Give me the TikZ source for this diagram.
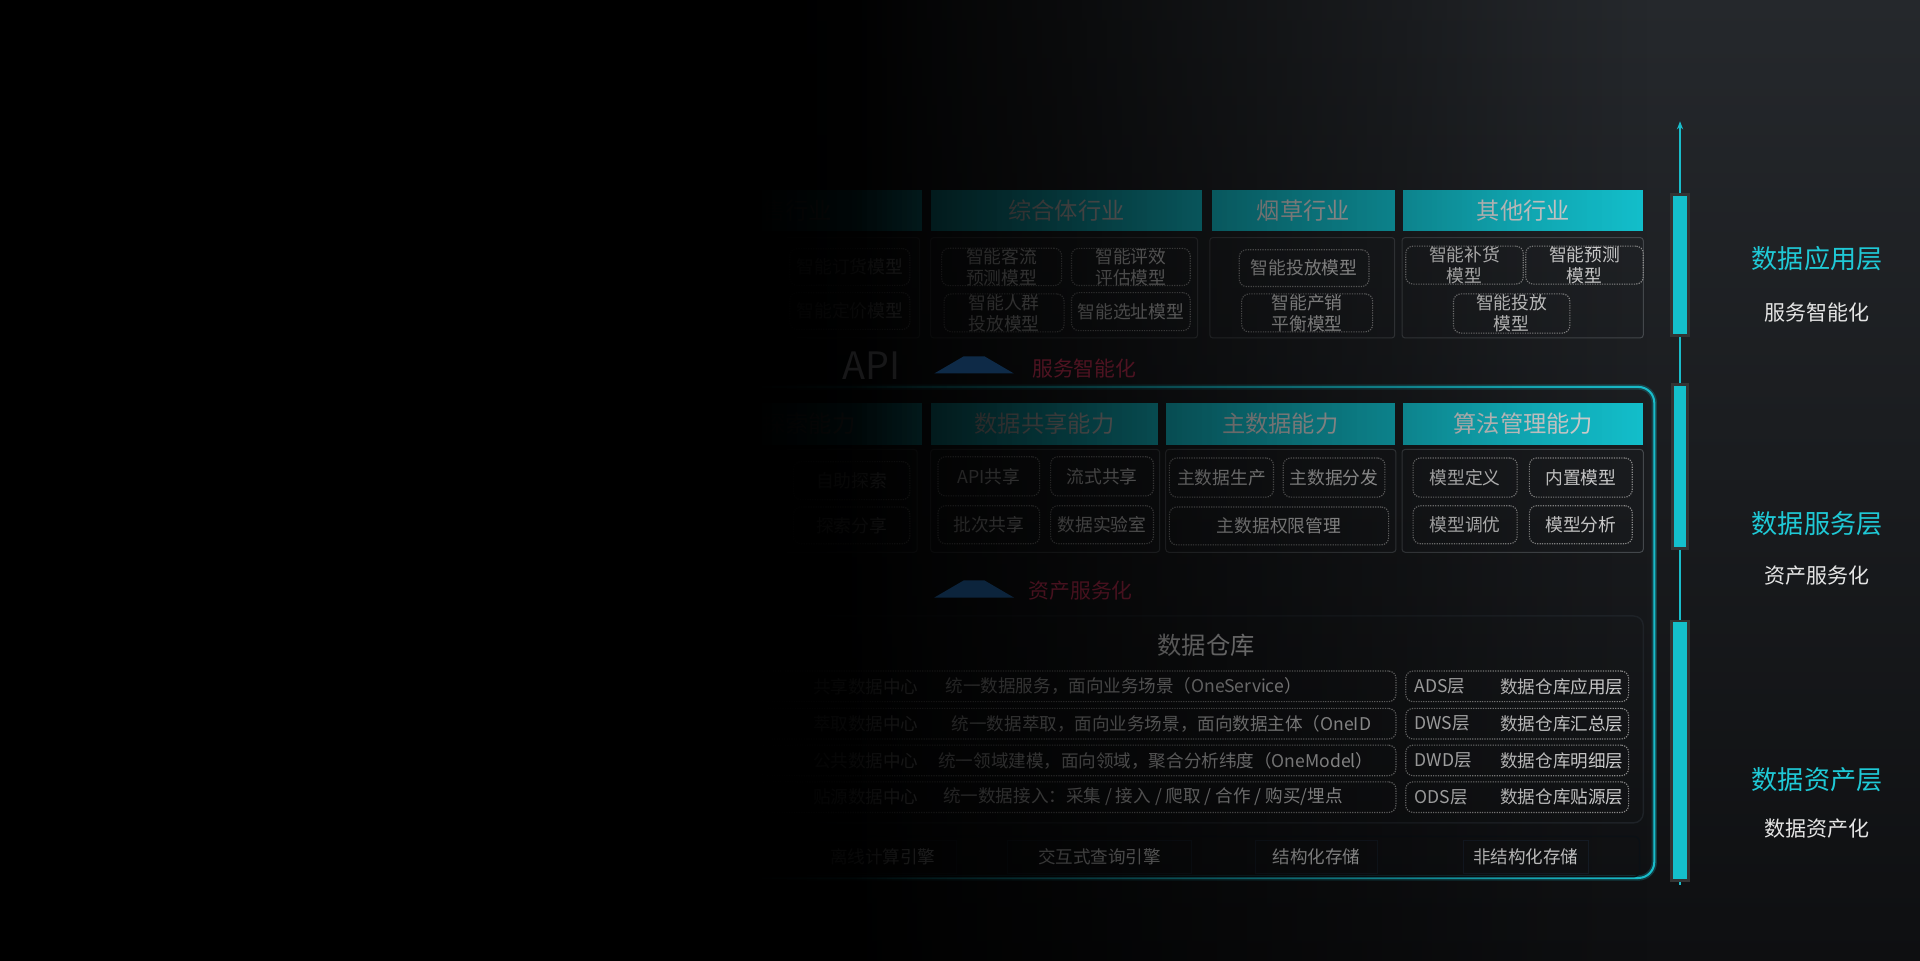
\documentclass[tikz,border=0pt]{standalone}
\usepackage{fontspec}
\setmainfont{Noto Sans CJK SC}
\usetikzlibrary{arrows.meta}
\definecolor{bgT}{HTML}{25282C}
\definecolor{bgB}{HTML}{0E0F11}
\definecolor{hdr}{HTML}{13BFCC}
\definecolor{hdrtxt}{HTML}{D8D8D8}
\definecolor{itxt}{HTML}{D4D4D4}
\definecolor{dotline}{HTML}{8C8C8C}
\definecolor{bodyline}{HTML}{44484C}
\definecolor{frame}{HTML}{19BCCA}
\definecolor{barc}{HTML}{14C0CC}
\definecolor{lblc}{HTML}{1FC9D6}
\definecolor{redt}{HTML}{4E1321}
\definecolor{navy}{HTML}{0E2A47}
\definecolor{apit}{HTML}{171718}
\definecolor{eboxc}{HTML}{161D27}
\tikzset{
  bsz/.style 2 args={minimum width=#1*0.6pt, minimum height=#2*0.6pt},
  hdrbox/.style={fill=hdr, text=hdrtxt, inner sep=0pt, font=\fontsize{11.4}{13}\selectfont},
  bodybox/.style={draw=bodyline, line width=0.5pt, rounded corners=1.5pt, inner sep=0pt},
  ibox/.style={draw=dotline, line width=0.55pt, dash pattern=on 0.6pt off 0.6pt, rounded corners=3.6pt, inner sep=0pt, text=itxt, align=center, font=\fontsize{8.7}{10.2}\selectfont},
  rowbox/.style={draw=dotline, line width=0.55pt, dash pattern=on 0.6pt off 0.6pt, rounded corners=3.6pt, inner sep=0pt},
  rowtxt/.style={text=itxt, inner sep=0pt, font=\fontsize{8.6}{10}\selectfont},
  ebox/.style={draw=eboxc, line width=0.4pt, inner sep=0pt, text=itxt, font=\fontsize{8.6}{10}\selectfont},
  barst/.style={fill=barc, draw=black!80, line width=1.2pt, inner sep=0pt},
  barline/.style={draw=frame, line width=0.7pt},
  biglbl/.style={text=lblc, font=\fontsize{12.8}{15}\selectfont, inner sep=0pt},
  sublbl/.style={text=white!90!black, font=\fontsize{10.3}{12}\selectfont, inner sep=0pt},
  redlbl/.style={text=redt, font=\fontsize{10.2}{12}\selectfont, inner sep=0pt},
}
\begin{document}
\begin{tikzpicture}[x=0.6pt,y=-0.6pt]
\useasboundingbox (0,0) rectangle (1568,784);
% background
\shade[top color=bgT, bottom color=bgB] (0,0) rectangle (1568,784);

% ===== top: data application layer =====
\node[hdrbox, bsz={223}{34}] (h0) at (641.5,172) {零售行业};
\node[hdrbox, bsz={222}{34}] (h1) at (871,172) {综合体行业};
\node[hdrbox, bsz={149}{34}] (h2) at (1064.5,172) {烟草行业};
\node[hdrbox, bsz={196}{34}] (h3) at (1244,172) {其他行业};

\node[bodybox, bsz={221}{82}] (b0) at (640.5,235) {};
\node[bodybox, bsz={218}{82}] (b1) at (869,235) {};
\node[bodybox, bsz={151}{82}] (b2) at (1063.5,235) {};
\node[bodybox, bsz={197}{82}] (b3) at (1243.5,235) {};

\node[ibox, bsz={98}{30}] (t01) at (694,218) {智能订货模型};
\node[ibox, bsz={98}{30}] (t02) at (694,254) {智能定价模型};
\node[ibox, bsz={98}{30}] (t11) at (818,218) {智能客流\\预测模型};
\node[ibox, bsz={97}{30}] (t12) at (923.5,218) {智能评效\\评估模型};
\node[ibox, bsz={98}{31}] (t13) at (820,255.5) {智能人群\\投放模型};
\node[ibox, bsz={97}{31}] (t14) at (923.5,254.5) {智能选址模型};
\node[ibox, bsz={106}{30}] (t21) at (1065,219) {智能投放模型};
\node[ibox, bsz={107}{31}] (t22) at (1067.5,255.5) {智能产销\\平衡模型};
\node[ibox, bsz={96}{31}] (t31) at (1196,216.5) {智能补货\\模型};
\node[ibox, bsz={96}{31}] (t32) at (1294,216.5) {智能预测\\模型};
\node[ibox, bsz={95}{32}] (t33) at (1234.5,256) {智能投放\\模型};

% ===== middle frame =====
\draw[frame, opacity=0.25, line width=2.6pt, rounded corners=7.8pt] (540,316) rectangle (1351,717);
\draw[frame, line width=1pt, rounded corners=7.8pt] (540,316) rectangle (1351,717);

\node[hdrbox, bsz={223}{34}] (mh0) at (641.5,346) {数据探索能力};
\node[hdrbox, bsz={186}{34}] (mh1) at (853,346) {数据共享能力};
\node[hdrbox, bsz={187}{34}] (mh2) at (1045.5,346) {主数据能力};
\node[hdrbox, bsz={196}{34}] (mh3) at (1244,346) {算法管理能力};

\node[bodybox, bsz={219}{84}] (mb0) at (639.5,409) {};
\node[bodybox, bsz={187}{84}] (mb1) at (853.5,409) {};
\node[bodybox, bsz={188}{84}] (mb2) at (1046,409) {};
\node[bodybox, bsz={197}{84}] (mb3) at (1243.5,409) {};

\node[ibox, bsz={95}{31}] (m01) at (695.5,392.5) {自助探索};
\node[ibox, bsz={95}{30}] (m02) at (695.5,429) {探索分享};
\node[ibox, bsz={83}{32}] (m11) at (807.5,389) {API共享};
\node[ibox, bsz={84}{32}] (m12) at (900,389) {流式共享};
\node[ibox, bsz={83}{31}] (m13) at (807.5,428.5) {批次共享};
\node[ibox, bsz={84}{31}] (m14) at (900,428.5) {数据实验室};
\node[ibox, bsz={85}{32}] (m21) at (997.5,390) {主数据生产};
\node[ibox, bsz={83}{32}] (m22) at (1089.5,390) {主数据分发};
\node[ibox, bsz={179}{31}] (m23) at (1044.5,429.5) {主数据权限管理};
\node[ibox, bsz={85}{32}] (m31) at (1196.5,390) {模型定义};
\node[ibox, bsz={84}{32}] (m32) at (1291,390) {内置模型};
\node[ibox, bsz={85}{31}] (m33) at (1196.5,428.5) {模型调优};
\node[ibox, bsz={84}{31}] (m34) at (1291,428.5) {模型分析};

% ===== data warehouse =====
\node[draw=bodyline!120, line width=0.7pt, rounded corners=4.8pt, inner sep=0pt, bsz={790}{169}] (wh) at (947,587.5) {};
\node[text=itxt, inner sep=0pt, font=\fontsize{11.9}{14}\selectfont] (whT) at (985,527) {数据仓库};

\foreach \n/\y in {1/560.5, 2/591, 3/621, 4/651}{
  \node[rowbox, bsz={520}{25}] (rowL\n) at (880,\y) {};
  \node[rowbox, bsz={182}{25}] (rowR\n) at (1239,\y) {};
}
\node[rowtxt] (c1) at (707,560.5) {共享数据中心};
\node[rowtxt] (c2) at (707,591) {萃取数据中心};
\node[rowtxt] (c3) at (707,621) {公共数据中心};
\node[rowtxt] (c4) at (707,651) {贴源数据中心};
\node[rowtxt, anchor=west] (d1) at (772,560.5) {统一数据服务，面向业务场景（OneService）};
\node[rowtxt, anchor=west] (d2) at (777,591) {统一数据萃取，面向业务场景，面向数据主体（OneID};
\node[rowtxt, anchor=west] (d3) at (766,621) {统一领域建模，面向领域，聚合分析纬度（OneModel）};
\node[rowtxt, anchor=west] (d4) at (770,651) {统一数据接入：采集 / 接入 / 爬取 / 合作 / 购买/埋点};
\node[rowtxt, anchor=west] (a1) at (1155,560.5) {ADS层};
\node[rowtxt, anchor=west] (a2) at (1155,591) {DWS层};
\node[rowtxt, anchor=west] (a3) at (1155,621) {DWD层};
\node[rowtxt, anchor=west] (a4) at (1155,651) {ODS层};
\node[rowtxt, anchor=east] (n1) at (1326,560.5) {数据仓库应用层};
\node[rowtxt, anchor=east] (n2) at (1326,591) {数据仓库汇总层};
\node[rowtxt, anchor=east] (n3) at (1326,621) {数据仓库明细层};
\node[rowtxt, anchor=east] (n4) at (1326,651) {数据仓库贴源层};

% ===== engines / storage =====
\node[draw=bodyline!130, line width=0.7pt, rounded corners=3pt, inner sep=0pt, bsz={787}{33}] (eng) at (945.5,699.5) {};
\node[ebox, bsz={120}{27}] (e1) at (721,700) {离线计算引擎};
\node[ebox, bsz={150}{27}] (e2) at (898,700) {交互式查询引擎};
\node[ebox, bsz={100}{27}] (e3) at (1075,700) {结构化存储};
\node[ebox, bsz={102}{27}] (e4) at (1246,700) {非结构化存储};

% ===== left fade overlay (pixel-aligned strips, 5 px each) =====
\fill[black] (-5,-5) rectangle (610.05,790);
\foreach \k in {0,...,179}{
  \pgfmathsetmacro\xa{610.05+4.0833333*\k}
  \pgfmathsetmacro\xb{610.05+4.0833333*(\k+1)}
  \pgfmathsetmacro\xm{0.5*(\xa+\xb)}
  \pgfmathsetmacro\op{\xm<700 ? 1-0.04*(\xm-610)/90 : (\xm<752 ? 0.96-0.09*(\xm-700)/52 : (\xm<871 ? 0.87-0.15*(\xm-752)/119 : (\xm<990 ? 0.72-0.18*(\xm-871)/119 : (\xm<1146 ? 0.54-0.23*(\xm-990)/156 : (\xm<1250 ? 0.31-0.18*(\xm-1146)/104 : max(0,0.13-0.13*(\xm-1250)/95))))))}
  \fill[black, fill opacity=\op] (\xa,-5) rectangle (\xb,790);
}

% ===== faded service labels =====
\node[text=apit, inner sep=0pt, font=\fontsize{18.5}{20}\selectfont] (api) at (712,299) {API};
\fill[navy] (763,305) -- (787,291) -- (804,291) -- (828,305) -- cycle;
\node[redlbl] (red1) at (885.5,301) {服务智能化};
\fill[navy!85!black] (763,488) -- (787,474) -- (804,474) -- (828,488) -- cycle;
\node[redlbl, text=redt!90!black] (red2) at (882.5,482) {资产服务化};

% ===== right axis =====
\coordinate (topC) at (1372,99);
\coordinate (botC) at (1372,723);
\node[barst, bsz={14}{115}] (bar1) at (1372,216.5) {};
\node[barst, bsz={12}{134}] (bar2) at (1372,381) {};
\node[barst, bsz={14}{212}] (bar3) at (1372,613) {};
\draw[barline, -{Stealth[length=4pt,width=3pt]}] (bar1.north) -- (topC);
\draw[barline] (bar2.north) -- (bar1.south);
\draw[barline] (bar3.north) -- (bar2.south);
\draw[barline] (bar3.south) -- (botC);

\node[biglbl] (L1) at (1484,211) {数据应用层};
\node[sublbl] (S1) at (1484,255) {服务智能化};
\node[biglbl] (L2) at (1484,428) {数据服务层};
\node[sublbl] (S2) at (1484,470) {资产服务化};
\node[biglbl] (L3) at (1484,637) {数据资产层};
\node[sublbl] (S3) at (1484,677) {数据资产化};
\end{tikzpicture}
\end{document}
